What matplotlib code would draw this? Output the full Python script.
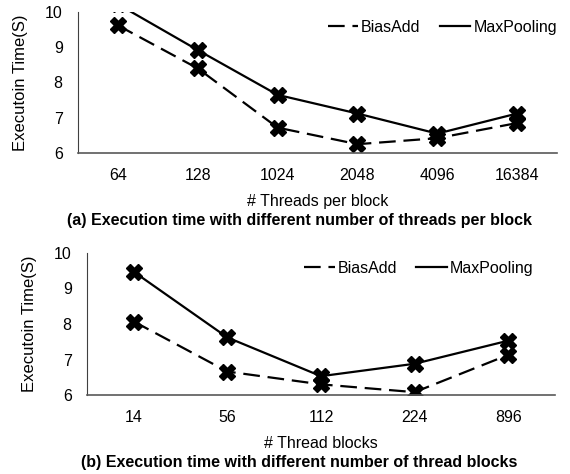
import numpy as np
import matplotlib.pyplot as plt

plt.rcParams['font.family'] = ['Liberation Sans', 'DejaVu Sans']

# (a) потоки на блок
threads = ['64', '128', '1024', '2048', '4096', '16384']
bias_a = [9.62, 8.4, 6.72, 6.25, 6.42, 6.85]
maxp_a = [10.22, 8.92, 7.65, 7.12, 6.55, 7.12]

# (b) число блоков
blocks = ['14', '56', '112', '224', '896']
bias_b = [8.07, 6.66, 6.3, 6.08, 7.13]
maxp_b = [9.47, 7.62, 6.53, 6.88, 7.53]

fig = plt.figure(figsize=(5.7, 4.74), dpi=100)
ax1 = fig.add_axes([78 / 570, 1 - 153 / 474, 479 / 570, 141 / 474])
ax2 = fig.add_axes([87 / 570, 1 - 395 / 474, 468 / 570, 142 / 474])

fs = 11.5


def draw(ax, cats, bias, maxp, xlabel, leg_x):
    x = np.arange(len(cats))
    ax.plot(x, bias, color='black', lw=1.6, dashes=(7.5, 3.5), marker='X',
            markersize=11, label='BiasAdd')
    ax.plot(x, maxp, color='black', lw=1.6, marker='X',
            markersize=11, label='MaxPooling')
    ax.set_xlim(-0.5, len(cats) - 0.5)
    ax.set_ylim(6, 10)
    ax.set_yticks([6, 7, 8, 9, 10])
    ax.set_xticks(x)
    ax.set_xticklabels(cats)
    ax.tick_params(length=0, labelsize=fs, pad=11)
    ax.tick_params(axis='y', pad=11)
    for s in ['top', 'right']:
        ax.spines[s].set_visible(False)
    ax.spines['left'].set_color('#404040')
    ax.spines['bottom'].set_color('#595959')
    ax.spines['bottom'].set_linewidth(1.2)
    ax.set_xlabel(xlabel, fontsize=fs, labelpad=8)
    ax.set_ylabel('Executoin Time(S)', fontsize=12, labelpad=12)
    ax.legend(handles=[
        plt.Line2D([], [], color='black', lw=1.6, dashes=(7.5, 3.5)),
        plt.Line2D([], [], color='black', lw=1.6)],
        labels=['BiasAdd', 'MaxPooling'], ncol=2, frameon=False,
        loc='upper right', bbox_to_anchor=(leg_x, 1.045), fontsize=fs,
        handlelength=1.9, handletextpad=0.2, columnspacing=1.2)


draw(ax1, threads, bias_a, maxp_a, '# Threads per block', 1.03)
draw(ax2, blocks, bias_b, maxp_b, '# Thread blocks', 0.985)

fig.text(0.525, 1 - 221 / 474, '(a) Execution time with different number of threads per block',
         ha='center', va='center', fontsize=fs, fontweight='bold')
fig.text(0.525, 1 - 462 / 474, '(b) Execution time with different number of thread blocks',
         ha='center', va='center', fontsize=fs, fontweight='bold')

fig.savefig('out.png', dpi=100)
